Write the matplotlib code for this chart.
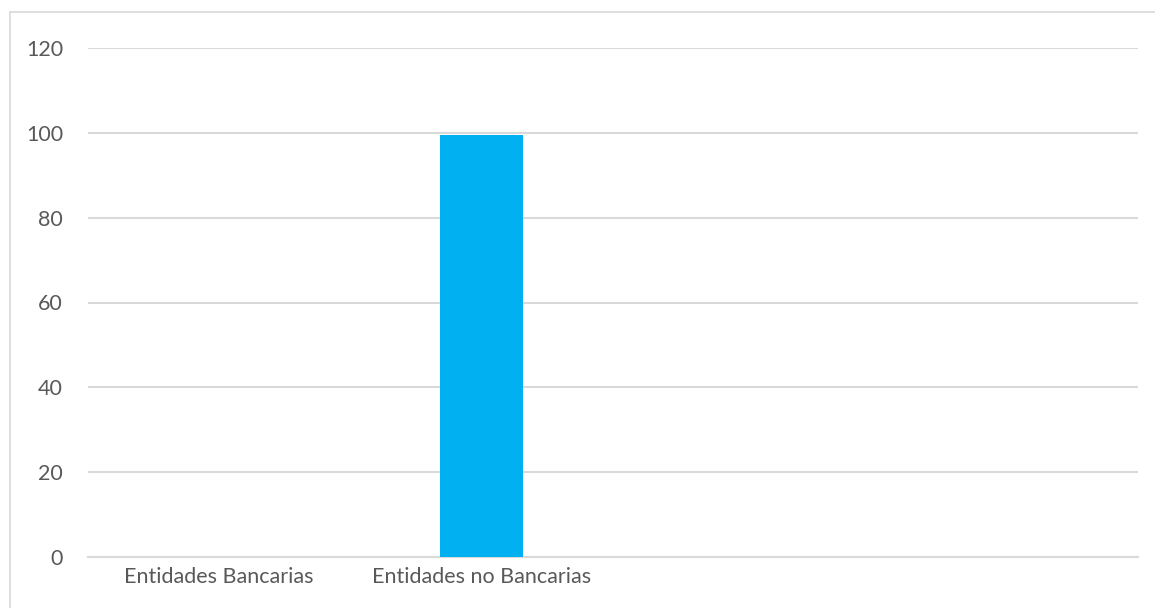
import matplotlib
matplotlib.use("Agg")
import matplotlib.pyplot as plt
from matplotlib.lines import Line2D

categories = ["Entidades Bancarias", "Entidades no Bancarias", "", ""]
values = [0, 99.5, 0, 0]
yticks = [0, 20, 40, 60, 80, 100, 120]

plt.rcParams['font.family'] = ['Lato', 'DejaVu Sans']

fig = plt.figure(figsize=(11.55, 6.08), dpi=100)
ax = fig.add_axes([88 / 1155, 1 - 557 / 608, (1138 - 88) / 1155, (557 - 48) / 608])

x = range(len(categories))
ax.bar(x, values, width=0.316, color="#00B0F0", zorder=3)

ax.set_xlim(-0.5, len(categories) - 0.5)
ax.set_ylim(0, 120)
ax.set_yticks(yticks)
ax.set_xticks(list(x))
ax.set_xticklabels(categories)
ax.grid(axis="y", color="#D9D9D9", linewidth=1.5, zorder=0)
ax.tick_params(length=0, labelsize=15.5, colors="#595959")
ax.tick_params(axis="y", pad=18)
ax.tick_params(axis="x", pad=7)
for s in ["top", "right", "left"]:
    ax.spines[s].set_visible(False)
ax.spines["bottom"].set_color("#D9D9D9")
ax.spines["bottom"].set_linewidth(1.5)

# outer chart frame (only top and left show in the crop)
fig.add_artist(Line2D([10 / 1155, 1], [1 - 12 / 608] * 2, color="#D9D9D9", lw=1.2, transform=fig.transFigure))
fig.add_artist(Line2D([10 / 1155] * 2, [0, 1 - 12 / 608], color="#D9D9D9", lw=1.2, transform=fig.transFigure))

fig.savefig("out.png", dpi=100)
